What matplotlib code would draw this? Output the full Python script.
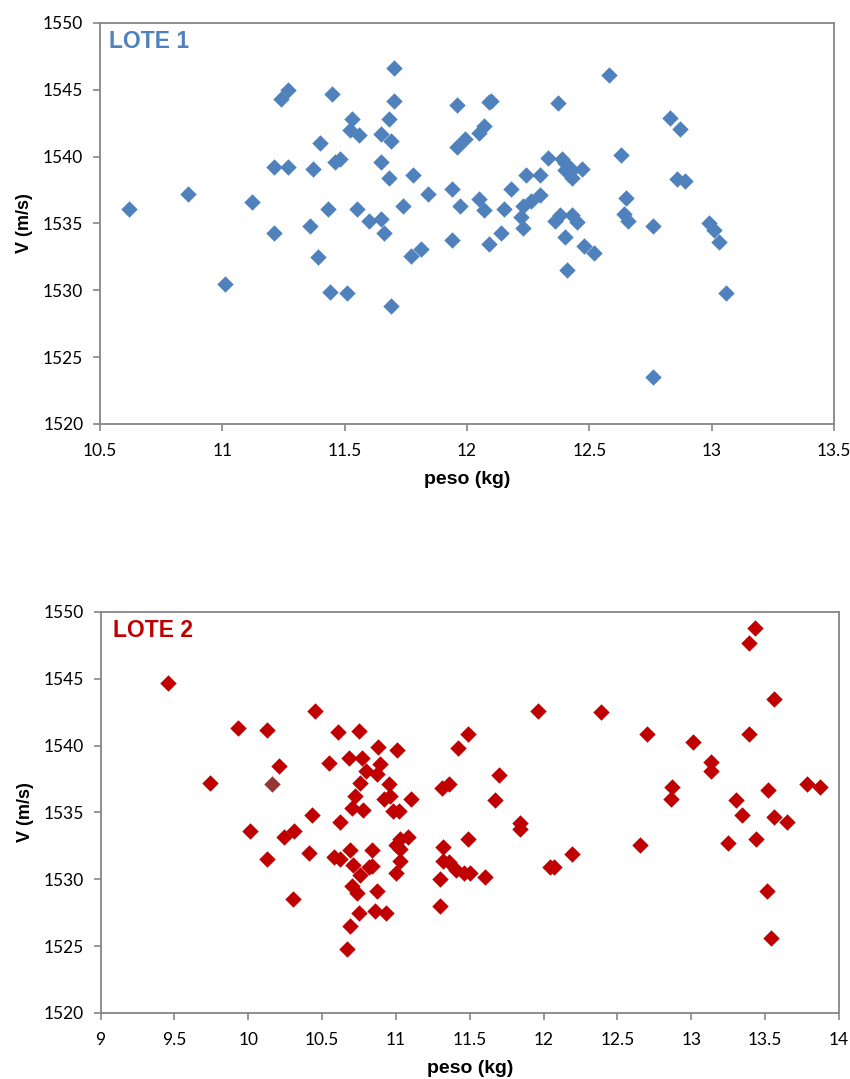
import matplotlib.pyplot as plt
from matplotlib.ticker import MultipleLocator

plt.rcParams['font.family'] = ['Lato', 'Liberation Sans', 'DejaVu Sans']

# LOTE 1: peso (kg), V (m/s)
peso_1 = [10.62, 10.86, 11.01, 11.12, 11.21, 11.27, 11.21, 11.24, 11.27, 11.37,
          11.36, 11.40, 11.39, 11.43, 11.45, 11.44, 11.46, 11.48, 11.52, 11.53,
          11.56, 11.51, 11.55, 11.60, 11.65, 11.66, 11.65, 11.65, 11.68, 11.69,
          11.70, 11.70, 11.68, 11.69, 11.74, 11.77, 11.78, 11.81, 11.84, 11.94,
          11.94, 11.96, 11.97, 11.96, 11.99,
          12.58, 12.10, 12.09, 12.37, 12.83, 12.87, 12.07, 12.05, 12.63, 12.33,
          12.39, 12.40, 12.47, 12.40, 12.43, 12.43, 12.24, 12.30, 12.86, 12.89,
          12.18, 12.30, 12.26, 12.23, 12.65, 12.05, 12.07, 12.15, 12.22, 12.23,
          12.14, 12.09, 12.36, 12.38, 12.43, 12.45, 12.40, 12.48, 12.52, 12.41,
          12.64, 12.66, 12.76, 12.99, 13.01, 13.03, 13.06, 12.76]
v_1 = [1536.1, 1537.2, 1530.5, 1536.6, 1539.2, 1539.2, 1534.3, 1544.3, 1545.0, 1539.1,
       1534.8, 1541.0, 1532.5, 1536.1, 1544.7, 1529.9, 1539.6, 1539.8, 1542.0, 1542.8,
       1541.6, 1529.8, 1536.1, 1535.2, 1535.3, 1534.3, 1539.6, 1541.7, 1542.8, 1541.2,
       1546.6, 1544.2, 1538.4, 1528.8, 1536.3, 1532.6, 1538.6, 1533.1, 1537.2, 1537.6,
       1533.8, 1543.9, 1536.3, 1540.7, 1541.3,
       1546.1, 1544.2, 1544.1, 1544.0, 1542.9, 1542.1, 1542.3, 1541.8, 1540.1, 1539.9,
       1539.8, 1539.5, 1539.1, 1539.0, 1539.0, 1538.4, 1538.6, 1538.6, 1538.3, 1538.2,
       1537.6, 1537.1, 1536.7, 1536.3, 1536.9, 1536.8, 1536.0, 1536.1, 1535.5, 1534.7,
       1534.3, 1533.5, 1535.2, 1535.6, 1535.6, 1535.1, 1534.0, 1533.3, 1532.8, 1531.5,
       1535.7, 1535.2, 1534.8, 1535.0, 1534.5, 1533.6, 1529.8, 1523.5]

# LOTE 2: peso (kg), V (m/s)
peso_2 = [9.46, 9.74, 9.93, 10.13, 10.21, 10.01, 10.13, 10.24, 10.31, 10.30,
          10.45, 10.43, 10.41, 10.55, 10.61, 10.75, 10.62, 10.58, 10.62, 10.68,
          10.77, 10.88, 11.01, 10.89, 10.80, 10.87, 10.76, 10.95, 10.72, 10.92,
          10.96, 11.10, 10.70, 10.78, 10.98, 11.02, 10.69, 10.84, 10.71, 10.82,
          10.84, 10.76, 10.70, 10.74, 10.87, 10.75, 10.86, 10.93, 10.69, 10.67,
          11.00, 11.03, 11.08, 11.03, 11.03, 11.00, 11.30, 11.30, 11.32, 11.32,
          11.36, 11.41, 11.46, 11.50, 11.42, 11.49, 11.31, 11.36, 11.49,
          11.60, 11.70, 11.67, 11.84, 11.84, 11.96, 12.04, 12.07, 12.19, 12.39,
          12.65, 12.70, 12.87, 12.86, 13.01, 13.13, 13.13, 13.25, 13.30, 13.34,
          13.39, 13.43, 13.39, 13.56, 13.44, 13.52, 13.56, 13.65, 13.78, 13.87,
          13.51, 13.54]
v_2 = [1544.7, 1537.2, 1541.3, 1541.2, 1538.5, 1533.6, 1531.5, 1533.2, 1533.6, 1528.5,
       1542.6, 1534.8, 1532.0, 1538.7, 1541.0, 1541.1, 1534.3, 1531.7, 1531.5, 1539.1,
       1539.1, 1539.9, 1539.7, 1538.6, 1538.1, 1537.9, 1537.2, 1537.1, 1536.2, 1536.0,
       1536.2, 1536.0, 1535.3, 1535.2, 1535.1, 1535.1, 1532.2, 1532.2, 1531.1, 1530.9,
       1531.0, 1530.3, 1529.5, 1529.0, 1529.1, 1527.5, 1527.6, 1527.5, 1526.5, 1524.8,
       1532.6, 1533.0, 1533.2, 1532.3, 1531.4, 1530.5, 1530.0, 1528.0, 1532.4, 1531.4,
       1531.3, 1530.7, 1530.5, 1530.5, 1539.8, 1540.9, 1536.8, 1537.1, 1533.0,
       1530.2, 1537.8, 1535.9, 1534.2, 1533.8, 1542.6, 1530.9, 1530.9, 1531.9, 1542.5,
       1532.6, 1540.9, 1536.9, 1536.0, 1540.3, 1538.8, 1538.1, 1532.7, 1535.9, 1534.8,
       1547.7, 1548.8, 1540.9, 1543.5, 1533.0, 1536.7, 1534.7, 1534.3, 1537.1, 1536.9,
       1529.1, 1525.6]
# one point in lote 2 is drawn in a darker shade
odd_peso_2 = [10.16]
odd_v_2 = [1537.1]

blue = '#4F81BD'
red = '#C00000'
grey = '#868686'
bold_font = ['Liberation Sans', 'DejaVu Sans']

fig = plt.figure(figsize=(8.5, 10.79), dpi=100)
ax1 = fig.add_axes([100 / 850, 1 - 424 / 1079, 734 / 850, 401 / 1079])
ax2 = fig.add_axes([100.5 / 850, 1 - 1013 / 1079, 738.5 / 850, 401 / 1079])

ax1.scatter(peso_1, v_1, marker='D', s=70, color=blue, linewidths=0)
ax2.scatter(peso_2, v_2, marker='D', s=70, color=red, linewidths=0)
ax2.scatter(odd_peso_2, odd_v_2, marker='D', s=70, color='#953735', linewidths=0)

ax1.set_xlim(10.5, 13.5)
ax2.set_xlim(9, 14)

for ax, title, col, tx in [(ax1, 'LOTE 1', blue, 0.012), (ax2, 'LOTE 2', red, 0.017)]:
    ax.set_ylim(1520, 1550)
    ax.xaxis.set_major_locator(MultipleLocator(0.5))
    ax.yaxis.set_major_locator(MultipleLocator(5))
    ax.xaxis.set_major_formatter(plt.FuncFormatter(lambda v, p: f'{v:g}'))
    for sp in ax.spines.values():
        sp.set_color(grey)
        sp.set_linewidth(1.3)
    ax.tick_params(direction='out', length=5, width=1.2, color=grey,
                   labelsize=12.5)
    ax.tick_params(axis='x', pad=9)
    ax.tick_params(axis='y', pad=7)
    ax.set_xlabel('peso (kg)', fontsize=14, fontweight='bold',
                  family=bold_font, labelpad=8)
    ax.set_ylabel('V (m/s)', fontsize=13, fontweight='bold',
                  family=bold_font, labelpad=7)
    ax.text(tx, 0.982, title, transform=ax.transAxes, color=col,
            fontsize=16.5, fontweight='bold', va='top', ha='left',
            family=bold_font)

fig.savefig('out.png', dpi=100)
